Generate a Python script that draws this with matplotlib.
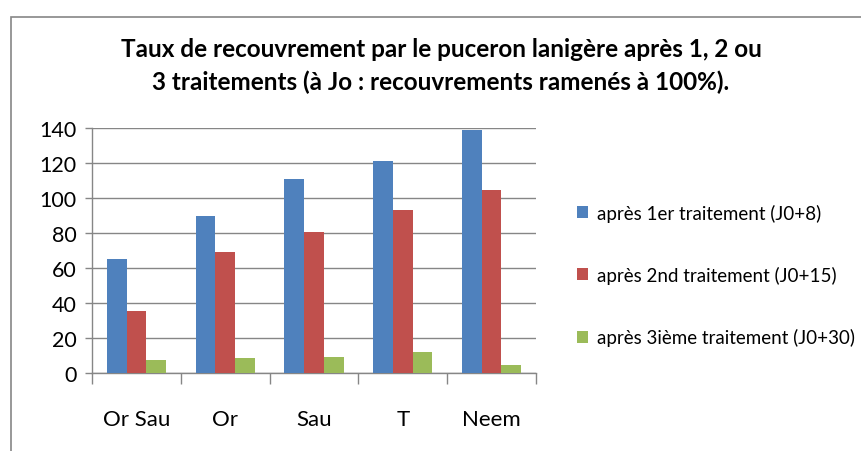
import numpy as np
import matplotlib
matplotlib.use('Agg')
import matplotlib.pyplot as plt
from matplotlib.patches import Rectangle

# Data
categories = ['Or Sau', 'Or', 'Sau', 'T', 'Neem']
series_names = [
    'après 1er traitement (J0+8)',
    'après 2nd traitement (J0+15)',
    'après 3ième traitement (J0+30)',
]
apres_1er = [65.0, 89.5, 110.8, 121.1, 138.9]
apres_2nd = [35.7, 68.9, 80.5, 93.3, 104.3]
apres_3ieme = [7.6, 8.4, 9.0, 12.0, 4.8]
colors = ['#4F81BD', '#C0504D', '#9BBB59']
y_ticks = [0, 20, 40, 60, 80, 100, 120, 140]

title = ("Taux de recouvrement par le puceron lanigère après 1, 2 ou\n"
         "3 traitements (à Jo : recouvrements ramenés à 100%).")

plt.rcParams['font.family'] = ['Lato', 'DejaVu Sans']

fig = plt.figure(figsize=(8.62, 4.52), dpi=100)
fig.patch.set_facecolor('white')

# chart area border (left and top visible, rest cut off)
fig.patches.append(Rectangle((11 / 862, -0.1), 1.2, 1.1 - 18 / 452,
                             transform=fig.transFigure, fill=False,
                             edgecolor='#868686', linewidth=1.2))

ax = fig.add_axes([92 / 862, 1 - 374 / 452, (536 - 92) / 862, (374 - 129) / 452])

x = np.arange(len(categories))
width = 1 / 4.5
all_series = [apres_1er, apres_2nd, apres_3ieme]
for i, (vals, name, col) in enumerate(zip(all_series, series_names, colors)):
    ax.bar(x + (i - 1) * width, vals, width, color=col, label=name, zorder=3)

ax.set_xlim(-0.5, len(categories) - 0.5)
ax.set_ylim(0, 140)
ax.set_yticks(y_ticks)
ax.yaxis.grid(True, color='#868686', linewidth=1.0, zorder=0)

ax.set_xticks(x)
ax.set_xticklabels(categories, fontsize=16)
ax.tick_params(axis='x', which='major', length=0, pad=26)
ax.set_xticks(np.arange(-0.5, len(categories)), minor=True)
ax.tick_params(axis='x', which='minor', length=8, color='#868686', width=1.0)
ax.tick_params(axis='y', labelsize=15.5, length=5, color='#868686', width=1.0, pad=6)

for side in ['top', 'right']:
    ax.spines[side].set_visible(False)
for side in ['left', 'bottom']:
    ax.spines[side].set_color('#868686')
    ax.spines[side].set_linewidth(1.0)

fig.text(441 / 862, 1 - 66 / 452, title, ha='center', va='center',
         fontsize=17.5, fontweight='bold', linespacing=1.45)

handles, labels = ax.get_legend_handles_labels()
fig.legend(handles, labels, loc='center left',
           bbox_to_anchor=(560 / 862, 1 - 276 / 452),
           frameon=False, fontsize=13.5, labelspacing=2.35,
           handlelength=0.6, handleheight=0.6, handletextpad=0.5)

fig.savefig('out.png', dpi=100)
